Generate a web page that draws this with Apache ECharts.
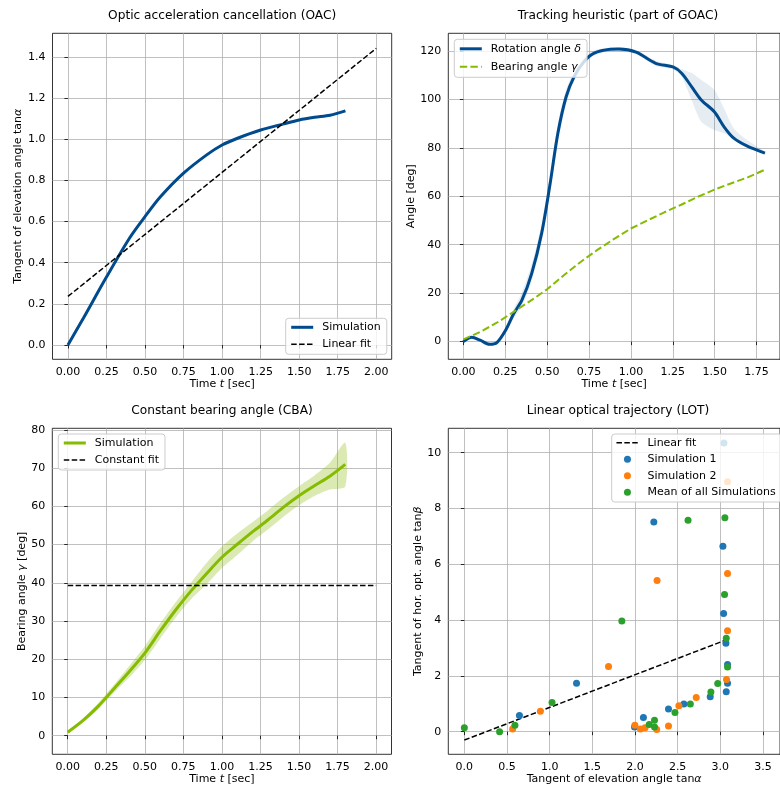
<!DOCTYPE html>
<html><head><meta charset="utf-8">
<script src="https://cdn.jsdelivr.net/npm/echarts@6.0.0/dist/echarts.min.js"></script>
<style>html,body{margin:0;padding:0;background:#fff}#c{width:780px;height:787px}</style>
</head><body><div id="c"></div>
<script>
// ---------- Panel 1: OAC ----------
const oacTime = [0, 0.1, 0.25, 0.4, 0.5, 0.6, 0.75, 0.9, 1.0, 1.1, 1.25, 1.4, 1.5, 1.6, 1.7, 1.8];
const oacTan  = [0, 0.13, 0.33, 0.52, 0.624, 0.72, 0.835, 0.924, 0.972, 1.005, 1.045, 1.075, 1.094, 1.107, 1.117, 1.138];
const oacFitTime = [0, 2.0];
const oacFit = [0.236, 1.442];
const oacXTicks = [0, 0.25, 0.5, 0.75, 1.0, 1.25, 1.5, 1.75, 2.0];
const oacYTicks = [0, 0.2, 0.4, 0.6, 0.8, 1.0, 1.2, 1.4];

// ---------- Panel 2: Tracking heuristic ----------
const deltaTime = [0, 0.05, 0.1, 0.156, 0.2, 0.253, 0.3, 0.35, 0.408, 0.467, 0.515, 0.564, 0.613, 0.661, 0.72, 0.778, 0.877, 0.928, 1.031, 1.148, 1.254, 1.303, 1.362, 1.42, 1.498, 1.556, 1.614, 1.692, 1.8];
const delta     = [0, 1.8, 0.6, -1.1, -0.4, 4.8, 11.5, 17.2, 28.2, 44.7, 64, 86, 101, 109.4, 115.6, 119, 120.7, 120.8, 119.5, 114.9, 113.3, 110.8, 105.3, 99.8, 94.9, 88.7, 84, 80.8, 77.8];
const deltaLow  = [-0.3, 1.4, 0.1, -1.7, -1.2, 3.5, 9.5, 14.5, 25, 41, 60, 82, 98, 107.5, 114.3, 118, 120, 120, 118.6, 113.8, 112.3, 109.4, 99.8, 90.8, 87.4, 86, 83.5, 80.5, 77.4];
const deltaHigh = [0.3, 2.2, 1.1, -0.5, 0.4, 6.3, 13.5, 20.5, 32, 48.5, 68, 90, 104, 111.5, 117, 120.2, 121.4, 121.6, 120.4, 116, 114.2, 112.5, 111, 108, 104, 96.3, 88.1, 83.3, 78.4];
const trackXTicks = [0, 0.25, 0.5, 0.75, 1.0, 1.25, 1.5, 1.75];
const trackYTicks = [0, 20, 40, 60, 80, 100, 120];

// ---------- Panel 3: CBA (bearing angle, also used in panel 2) ----------
const gammaTime = [0, 0.1, 0.2, 0.3, 0.4, 0.5, 0.6, 0.7, 0.8, 0.9, 1.0, 1.1, 1.2, 1.3, 1.4, 1.5, 1.6, 1.7, 1.8];
const gamma     = [0.9, 4.0, 7.8, 12.3, 16.8, 21.6, 27.4, 32.9, 37.9, 42.4, 46.7, 50.1, 53.4, 56.5, 59.8, 62.8, 65.4, 67.9, 71.0];
const gammaLow  = [0.6, 3.5, 7.0, 11.3, 15.3, 19.8, 25.4, 30.9, 35.7, 39.6, 43.9, 47.3, 50.9, 54.0, 57.3, 60.3, 62.7, 64.4, 65.2];
const gammaHigh = [1.2, 4.5, 8.6, 13.3, 18.3, 23.4, 29.4, 34.9, 40.1, 45.2, 49.5, 52.9, 55.9, 59.0, 62.3, 65.3, 68.1, 71.4, 76.7];
const cbaFitTime = [0, 2.0];
const cbaFit = [39.3, 39.3];
const cbaXTicks = [0, 0.25, 0.5, 0.75, 1.0, 1.25, 1.5, 1.75, 2.0];
const cbaYTicks = [0, 10, 20, 30, 40, 50, 60, 70, 80];

// ---------- Panel 4: LOT ----------
const lotFitX = [0, 3.085];
const lotFitY = [-0.30, 3.31];
const sim1X = [3.043, 2.221, 3.031, 3.039, 3.066, 3.085, 3.085, 3.07, 1.315, 0.646, 2.882, 2.573, 2.393, 2.099, 1.995];
const sim1Y = [10.35, 7.52, 6.65, 4.24, 3.17, 2.41, 1.74, 1.43, 1.74, 0.58, 1.25, 0.99, 0.81, 0.51, 0.17];
const sim2X = [3.085, 2.259, 3.085, 3.085, 3.073, 1.690, 0.891, 0.566, 1.999, 2.064, 2.118, 2.255, 2.393, 2.515, 2.718];
const sim2Y = [8.96, 5.42, 5.67, 3.62, 1.87, 2.34, 0.73, 0.10, 0.23, 0.10, 0.14, 0.08, 0.20, 0.93, 1.23];
const meanX = [0.0, 0.413, 0.593, 1.028, 1.846, 2.622, 3.054, 3.050, 3.070, 3.085, 2.970, 2.890, 2.649, 2.469, 2.229, 2.167, 2.229];
const meanY = [0.14, 0.0, 0.23, 1.05, 3.97, 7.58, 7.67, 4.92, 3.35, 2.32, 1.73, 1.42, 0.99, 0.69, 0.41, 0.26, 0.17];
const lotXTicks = [0, 0.5, 1.0, 1.5, 2.0, 2.5, 3.0, 3.5];
const lotYTicks = [0, 2, 4, 6, 8, 10];

// ---------- build ----------
const F = '"DejaVu Sans", sans-serif';
const BLUE = '#004b8d', GREEN = '#85bb00';
const zip = (a, b) => a.map((v, i) => [v, b[i]]);
const richBase = {
  a: {fontSize: 11, fontFamily: F, color: '#000'},
  b: {fontSize: 11, fontFamily: F, color: '#000', fontStyle: 'italic'}
};

function axis(gridIndex, min, max, ticks, dec, name, nameGap) {
  return {
    gridIndex, type: 'value', min, max,
    axisLine: {show: false},
    axisTick: {show: true, length: 3.5, inside: false, customValues: ticks, lineStyle: {color: '#000', width: 0.8}},
    axisLabel: {customValues: ticks, formatter: v => v.toFixed(dec), color: '#000', fontSize: 11, fontFamily: F, margin: 7},
    splitLine: {show: true, lineStyle: {color: '#b0b0b0', width: 0.8}},
    name, nameLocation: 'middle', nameGap,
    nameTextStyle: {rich: richBase, fontSize: 11, fontFamily: F, color: '#000'}
  };
}

const gridBase = {show: true, borderColor: '#000', borderWidth: 0.8, backgroundColor: 'rgba(0,0,0,0)', containLabel: false};
const grids = [
  Object.assign({left: 52.5, top: 33.3, width: 339.2, height: 326}, gridBase),
  Object.assign({left: 448.3, top: 33.3, width: 339.2, height: 326}, gridBase),
  Object.assign({left: 52.3, top: 428.3, width: 339.2, height: 326}, gridBase),
  Object.assign({left: 448.3, top: 428.3, width: 339.2, height: 326}, gridBase)
];

const xAxes = [
  axis(0, -0.1, 2.1, oacXTicks, 2, '{a|Time }{b|t}{a| [sec]}', 19),
  axis(1, -0.09, 1.89, trackXTicks, 2, '{a|Time }{b|t}{a| [sec]}', 19),
  axis(2, -0.1, 2.1, cbaXTicks, 2, '{a|Time }{b|t}{a| [sec]}', 19),
  axis(3, -0.188, 3.70, lotXTicks, 1, '{a|Tangent of elevation angle tan}{b|α}', 19)
];
const yAxes = [
  axis(0, -0.0695, 1.515, oacYTicks, 1, '{a|Tangent of elevation angle tan}{b|α}', 28),
  axis(1, -7.3, 127.3, trackYTicks, 0, '{a|Angle [deg]}', 30),
  axis(2, -4.87, 80.44, cbaYTicks, 0, '{a|Bearing angle }{b|γ}{a| [deg]}', 25),
  axis(3, -0.81, 10.875, lotYTicks, 0, '{a|Tangent of hor. opt. angle tan}{b|β}', 25)
];

const labels = {
  oacSim: '{a|Simulation}', oacFit: '{a|Linear fit}',
  delta: '{a|Rotation angle }{b|δ}', gammaT: '{a|Bearing angle }{b|γ}',
  cbaSim: '{a|Simulation}', cbaFit: '{a|Constant fit}',
  lotFit: '{a|Linear fit}', sim1: '{a|Simulation 1}', sim2: '{a|Simulation 2}', mean: '{a|Mean of all Simulations}'
};
const lineItem = (name, width) => ({name, itemStyle: {opacity: 0}, lineStyle: {width}});
function legend(data, left, top, itemHeight, lh) {
  return {
    data, left, top, orient: 'vertical',
    backgroundColor: 'rgba(255,255,255,0.8)', borderColor: '#cccccc', borderWidth: 1, borderRadius: 3,
    padding: [3, 6, 4, 4], itemWidth: 22, itemHeight, itemGap: 5,
    selectedMode: false,
    formatter: n => labels[n],
    textStyle: {fontSize: 11, fontFamily: F, color: '#000', lineHeight: lh, padding: [0, 0, 0, 4],
      rich: {a: Object.assign({lineHeight: lh}, richBase.a), b: Object.assign({lineHeight: lh}, richBase.b)}}
  };
}

const line = (name, xi, x, y, color, width, dash, z) => ({
  name, type: 'line', xAxisIndex: xi, yAxisIndex: xi, data: zip(x, y), symbol: 'none', showSymbol: false,
  smooth: dash ? false : 0.3, silent: true, z: z || 3,
  lineStyle: {color, width, type: dash || 'solid', cap: 'butt'}, itemStyle: {color}
});
// shaded band between low and high, drawn as one polygon through the axis scales
const band = (xi, x, lo, hi, color) => ({
  type: 'custom', xAxisIndex: xi, yAxisIndex: xi, silent: true, z: 2,
  data: x.map((v, i) => [v, lo[i], hi[i]]),
  encode: {x: 0, y: [1, 2]},
  renderItem: (params, api) => {
    if (params.dataIndex !== 0) return null;
    const pts = [];
    for (let i = 0; i < x.length; i++) pts.push(api.coord([x[i], hi[i]]));
    for (let i = x.length - 1; i >= 0; i--) pts.push(api.coord([x[i], lo[i]]));
    return {type: 'polygon', shape: {points: pts, smooth: 0.25}, style: {fill: color}};
  }
});
const scatter = (name, x, y, color) => ({
  name, type: 'scatter', xAxisIndex: 3, yAxisIndex: 3, data: zip(x, y), symbolSize: 7, silent: true, z: 3,
  itemStyle: {color, opacity: 1}
});

const titleStyle = {fontSize: 12.2, fontFamily: F, fill: '#000', align: 'center', verticalAlign: 'middle'};
const titles = [
  ['Optic acceleration cancellation (OAC)', 222.1, 16],
  ['Tracking heuristic (part of GOAC)', 618, 16],
  ['Constant bearing angle (CBA)', 222, 411],
  ['Linear optical trajectory (LOT)', 618, 411]
];

const option = {
  animation: false,
  backgroundColor: '#fff',
  textStyle: {fontFamily: F},
  grid: grids, xAxis: xAxes, yAxis: yAxes,
  graphic: titles.map(t => ({type: 'text', x: t[1], y: t[2], silent: true, style: Object.assign({text: t[0]}, titleStyle)})),
  legend: [
    legend([lineItem('oacSim', 3), lineItem('oacFit', 1.5)], 285.7, 318.3, 10, 12),
    legend([lineItem('delta', 3), lineItem('gammaT', 2)], 454.3, 39.3, 10, 13),
    legend([lineItem('cbaSim', 3), lineItem('cbaFit', 1.5)], 58.3, 434, 10, 12),
    legend([lineItem('lotFit', 1.5), 'sim1', 'sim2', 'mean'], 611.7, 434, 7, 11.5)
  ],
  series: [
    line('oacSim', 0, oacTime, oacTan, BLUE, 3),
    line('oacFit', 0, oacFitTime, oacFit, '#000', 1.5, [5.5, 2.4]),
    band(1, deltaTime, deltaLow, deltaHigh, 'rgba(0,75,141,0.1)'),
    line('delta', 1, deltaTime, delta, BLUE, 3),
    line('gammaT', 1, gammaTime, gamma, GREEN, 2, [7.4, 3.2]),
    band(2, gammaTime, gammaLow, gammaHigh, 'rgba(133,187,0,0.3)'),
    line('cbaSim', 2, gammaTime, gamma, GREEN, 3),
    line('cbaFit', 2, cbaFitTime, cbaFit, '#000', 1.5, [5.5, 2.4]),
    line('lotFit', 3, lotFitX, lotFitY, '#000', 1.5, [5.5, 2.4], 2),
    scatter('sim1', sim1X, sim1Y, '#1f77b4'),
    scatter('sim2', sim2X, sim2Y, '#ff7f0e'),
    scatter('mean', meanX, meanY, '#2ca02c')
  ]
};
const chart = echarts.init(document.getElementById('c'), null, {renderer: 'canvas'});
chart.setOption(option);
</script>
</body></html>
